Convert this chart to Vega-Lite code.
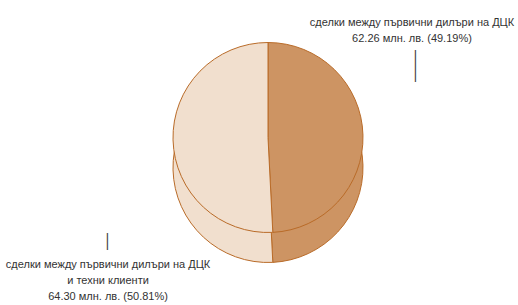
{
  "$schema": "https://vega.github.io/schema/vega-lite/v6.json",
  "width": 500,
  "height": 305,
  "autosize": "none",
  "padding": {"left": 18, "top": 0, "right": 0, "bottom": 0},
  "background": "white",
  "config": {"view": {"stroke": null}},
  "data": {
    "values": [
      {"segment": "сделки между първични дилъри на ДЦК", "value": 62.26, "share": 49.19, "label": "сделки между първични дилъри на ДЦК\n62.26 млн. лв. (49.19%)"},
      {"segment": "сделки между първични дилъри на ДЦК и техни клиенти", "value": 64.30, "share": 50.81, "label": "сделки между първични дилъри на ДЦК\nи техни клиенти\n64.30 млн. лв. (50.81%)"}
    ]
  },
  "encoding": {
    "theta": {"field": "value", "type": "quantitative", "stack": true},
    "order": {"field": "value", "sort": "ascending"}
  },
  "layer": [
    {
      "mark": {"type": "arc", "outerRadius": 95, "yOffset": 15, "stroke": "#B96B28", "strokeWidth": 1},
      "encoding": {
        "color": {"field": "segment", "type": "nominal", "legend": null,
          "scale": {"domain": ["сделки между първични дилъри на ДЦК", "сделки между първични дилъри на ДЦК и техни клиенти"], "range": ["#CD9463", "#F1DFCE"]}}
      }
    },
    {
      "mark": {"type": "arc", "outerRadius": 95, "yOffset": -15, "stroke": "#B96B28", "strokeWidth": 1},
      "encoding": {
        "color": {"field": "segment", "type": "nominal", "legend": null,
          "scale": {"domain": ["сделки между първични дилъри на ДЦК", "сделки между първични дилъри на ДЦК и техни клиенти"], "range": ["#CD9463", "#F1DFCE"]}}
      }
    },
    {
      "mark": {"type": "text", "radius": 95, "dx": 49, "dy": -124, "align": "center", "baseline": "alphabetic", "lineBreak": "\n", "lineHeight": 15.5, "font": "Liberation Sans", "fontSize": 11, "fill": "#333333"},
      "encoding": {"text": {"condition": {"test": "datum.value < 63", "field": "label", "type": "nominal"}, "value": ""}}
    },
    {
      "mark": {"type": "text", "radius": 95, "dx": -65, "dy": 112.6, "align": "center", "baseline": "alphabetic", "lineBreak": "\n", "lineHeight": 16, "font": "Liberation Sans", "fontSize": 11, "fill": "#333333"},
      "encoding": {"text": {"condition": {"test": "datum.value > 63", "field": "label", "type": "nominal"}, "value": ""}}
    },
    {
      "mark": {"type": "text", "radius": 95, "angle": 90, "dx": -84, "dy": -53, "align": "center", "baseline": "middle", "font": "Liberation Sans", "fontSize": 16, "fill": "#444444"},
      "encoding": {"text": {"condition": {"test": "datum.value < 63", "value": "——"}, "value": ""}}
    },
    {
      "mark": {"type": "text", "radius": 95, "angle": 90, "dx": 86.6, "dy": 65, "align": "center", "baseline": "middle", "font": "Liberation Sans", "fontSize": 17, "fill": "#444444"},
      "encoding": {"text": {"condition": {"test": "datum.value > 63", "value": "—"}, "value": ""}}
    }
  ]
}
